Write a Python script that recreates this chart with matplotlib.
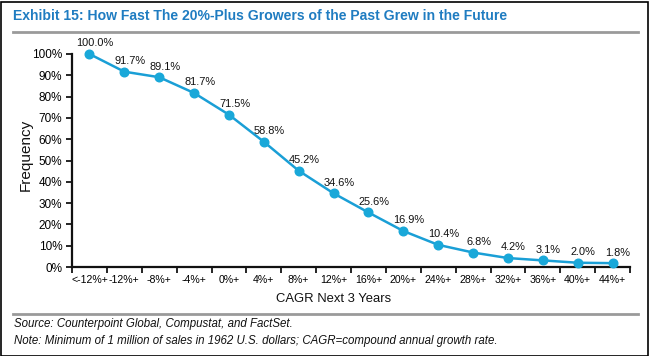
import matplotlib
matplotlib.use("Agg")
import matplotlib.pyplot as plt
from matplotlib.lines import Line2D
from matplotlib.patches import Rectangle

plt.rcParams['font.family'] = ['Liberation Sans', 'DejaVu Sans']

categories = ["<-12%+", "-12%+", "-8%+", "-4%+", "0%+", "4%+", "8%+", "12%+",
              "16%+", "20%+", "24%+", "28%+", "32%+", "36%+", "40%+", "44%+"]
frequency = [100.0, 91.7, 89.1, 81.7, 71.5, 58.8, 45.2, 34.6,
             25.6, 16.9, 10.4, 6.8, 4.2, 3.1, 2.0, 1.8]
y_ticks = [0, 10, 20, 30, 40, 50, 60, 70, 80, 90, 100]

W, H = 651, 356
fig = plt.figure(figsize=(W / 100, H / 100), dpi=100)

# axes placement in pixels
left, right, top, bottom = 72, 630, 54, 267
ax = fig.add_axes([left / W, 1 - bottom / H, (right - left) / W, (bottom - top) / H])

line_color = "#1a9fd6"
x = list(range(len(categories)))
ax.plot(x, frequency, color=line_color, lw=1.8, marker="o", ms=6.2,
        markerfacecolor="#19a8d9", markeredgecolor="#19a8d9", zorder=3, clip_on=False)
for xi, v in zip(x, frequency):
    ax.annotate(f"{v:.1f}%", (xi, v), xytext=(4, 4), textcoords="offset points",
                ha="center", va="bottom", fontsize=7.9, color="#111111")

ax.set_xlim(-0.5, len(categories) - 0.5)
ax.set_ylim(0, 100)
ax.set_yticks(y_ticks)
ax.set_yticklabels([f"{t}%" for t in y_ticks], fontsize=8.5)
ax.set_xticks([i - 0.5 for i in range(len(categories) + 1)])
ax.set_xticklabels([])
ax.set_xticks(x, minor=True)
ax.set_xticklabels(categories, minor=True, fontsize=7.6)
ax.tick_params(axis="x", which="minor", length=0, pad=6)
ax.tick_params(axis="x", which="major", length=4, width=1.2, direction="out")
ax.tick_params(axis="y", length=4, width=1.2, direction="out", pad=3)
for s in ["top", "right"]:
    ax.spines[s].set_visible(False)
for s in ["left", "bottom"]:
    ax.spines[s].set_linewidth(1.6)
    ax.spines[s].set_color("#111111")

# axis labels
fig.text(334 / W, 1 - 299 / H, "CAGR Next 3 Years", fontsize=9.4,
         ha="center", va="center", color="#111111")
fig.text(26 / W, 1 - 155 / H, "Frequency", fontsize=11.0, rotation=90,
         ha="center", va="center", color="#111111")

# title
fig.text(13 / W, 1 - 16 / H, "Exhibit 15: How Fast The 20%-Plus Growers of the Past Grew in the Future",
         fontsize=10.1, fontweight="bold", color="#1f7cc1", ha="left", va="center")

# rules
fig.add_artist(Line2D([13 / W, 638 / W], [1 - 32 / H, 1 - 32 / H], color="#9a9a9a", lw=2.0,
                      transform=fig.transFigure))
fig.add_artist(Line2D([13 / W, 638 / W], [1 - 314 / H, 1 - 314 / H], color="#9a9a9a", lw=2.0,
                      transform=fig.transFigure))

# footnotes
fig.text(14 / W, 1 - 324 / H, "Source: Counterpoint Global, Compustat, and FactSet.",
         fontsize=8.3, style="italic", ha="left", va="center", color="#111111")
fig.text(14 / W, 1 - 341 / H, "Note: Minimum of 1 million of sales in 1962 U.S. dollars; CAGR=compound annual growth rate.",
         fontsize=8.3, style="italic", ha="left", va="center", color="#111111")

# border
fig.add_artist(Rectangle((0.5 / W, 0.5 / H), (W - 4) / W, (H - 2) / H, fill=False,
                         edgecolor="black", lw=1.2, transform=fig.transFigure))

fig.savefig("out.png", dpi=100)
